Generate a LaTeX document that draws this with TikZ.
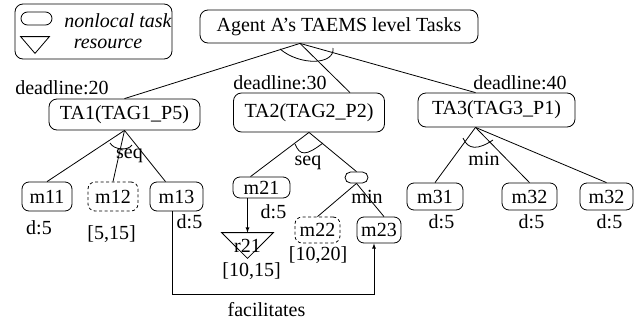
\documentclass[tikz,border=0pt]{standalone}
\usepackage{fontspec}
\setmainfont{Liberation Serif}
\begin{document}
\begin{tikzpicture}[x=1pt,y=-1pt,line width=0.8pt,>=latex,
            font=\fontsize{20}{24}\selectfont,
            task/.style={draw,rounded corners=7pt,inner sep=0pt},
            nonlocal task/.style={task,dash pattern=on 3pt off 2.5pt},
            tag/.style={inner sep=0pt}]

        \useasboundingbox (0,0) rectangle (642,327);

        % Legend
        \node[draw,rounded corners=8pt,minimum width=157pt,minimum height=55pt] (legend) at (93.5,31.5) {};
        \node[task,rounded corners=6.5pt,minimum width=31pt,minimum height=13pt] (key nl) at (36.5,18.5) {};
        \node[tag,minimum width=28pt,minimum height=16pt] (key res) at (35,45) {};
        \draw (key res.north west) -- (key res.north east) -- (key res.south) -- cycle;
        \node[tag,font=\fontsize{20}{24}\selectfont\itshape] (key nl text) at (118,21) {nonlocal task};
        \node[tag,font=\fontsize{20}{24}\selectfont\itshape] (key res text) at (108,44) {resource};

        % Define vertices
        \node[task,rounded corners=8pt,minimum width=278pt,minimum height=33pt] (top) at (339,26.5) {Agent A's TAEMS level Tasks};
        \node[task,rounded corners=8pt,minimum width=151pt,minimum height=31pt] (TA1) at (124.5,114.5) {TA1(TAG1\_P5)};
        \node[task,rounded corners=8pt,minimum width=151pt,minimum height=39pt] (TA2) at (309,112.5) {TA2(TAG2\_P2)};
        \node[task,rounded corners=8pt,minimum width=157pt,minimum height=34pt] (TA3) at (496.5,110) {TA3(TAG3\_P1)};

        \node[task,minimum width=50pt,minimum height=29pt] (m11) at (47,196.5) {m11};
        \node[nonlocal task,minimum width=50pt,minimum height=29pt] (m12) at (113,196.5) {m12};
        \node[task,minimum width=53pt,minimum height=29pt] (m13) at (176.5,196.5) {m13};

        \node[task,minimum width=57pt,minimum height=21pt] (m21) at (261.5,187.5) {m21};
        \node[task,rounded corners=5.5pt,minimum width=23pt,minimum height=11pt] (nl2) at (356.5,177.5) {};
        \node[nonlocal task,minimum width=45pt,minimum height=26pt] (m22) at (317.5,230) {m22};
        \node[task,minimum width=44pt,minimum height=26pt] (m23) at (379,230) {m23};
        \node[tag,minimum width=51pt,minimum height=25pt] (r21) at (247.5,245.5) {r21};
        \draw (r21.north west) -- (r21.north east) -- (r21.south) -- cycle;

        \node[task,minimum width=56pt,minimum height=27pt] (m31) at (435,196.5) {m31};
        \node[task,minimum width=55pt,minimum height=27pt] (m32) at (529.5,196.5) {m32};
        \node[task,minimum width=53pt,minimum height=27pt] (m33) at (606.5,196.5) {m32};

        % Labels
        \node[tag] (dl1) at (62,87.5) {deadline:20};
        \node[tag] (dl2) at (280,82.5) {deadline:30};
        \node[tag] (dl3) at (520,82.5) {deadline:40};
        \node[tag] (d11) at (39,228) {d:5};
        \node[tag] (w12) at (111.5,234) {[5,15]};
        \node[tag] (d13) at (189.5,222) {d:5};
        \node[tag] (d21) at (273.5,211.5) {d:5};
        \node[tag] (w21) at (251.5,271) {[10,15]};
        \node[tag] (w22) at (318,255) {[10,20]};
        \node[tag] (d31) at (441.5,222) {d:5};
        \node[tag] (d32) at (531.5,222) {d:5};
        \node[tag] (d33) at (609.5,222) {d:5};
        \node[tag] (seq1) at (129.5,155.5) {seq};
        \node[tag] (seq2) at (308,163) {seq};
        \node[tag] (min2) at (367,197) {min};
        \node[tag] (min3) at (484,159) {min};
        \node[tag] (fac) at (266.5,310) {facilitates};

        \coordinate (top apex) at ([xshift=-39pt]top.south);
        \coordinate (TA3 apex) at ([xshift=-21pt]TA3.south);

        % Draw edges
        \path
            (top apex) edge (TA1.north)
                       edge ([xshift=41pt]TA2.north)
                       edge ([xshift=-21pt]TA3.north)
            (TA1.south) edge (m11.north)
                        edge (m12.north)
                        edge ([xshift=-11pt]m13.north)
            (TA2.south) edge ([xshift=-11pt]m21.north)
                        edge (nl2.north)
            (nl2.south) edge (m22.north)
                        edge ([xshift=5pt]m23.north)
            (TA3 apex) edge (m31.north)
                       edge (m32.north)
                       edge (m33.north);

        % Quality accumulation arcs
        \draw (280,49) .. controls (300,66) and (335,65) .. (333,48);
        \draw (110,143) .. controls (114,150) and (128,151) .. (132,145);
        \draw (295,144) .. controls (300,156) and (306,156) .. (323,143);
        \draw (463,138) .. controls (468,150) and (478,150) .. (493,140);

        % Resource and facilitates
        \draw[->] (m21.south -| r21.north) -- (r21.north);
        \draw[->] ([xshift=-4.5pt]m13.south) -- ([xshift=-4.5pt]m13.south |- 0,294)
            -| ([xshift=-5pt]m23.south);

        \end{tikzpicture}
\end{document}
